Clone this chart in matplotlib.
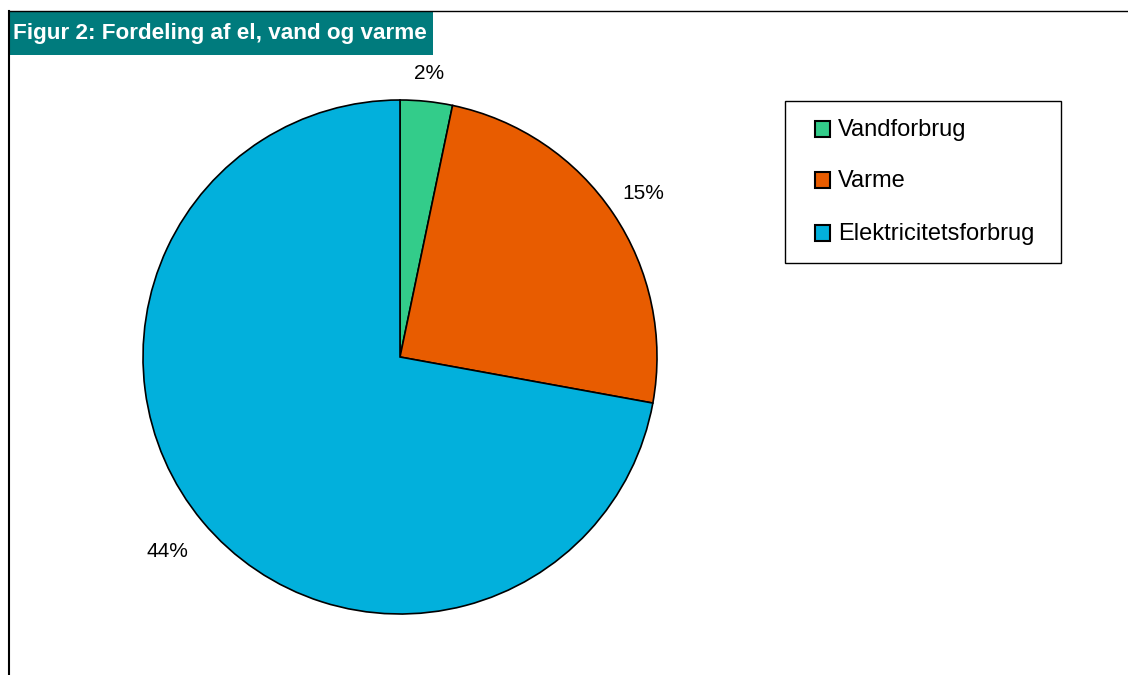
import numpy as np
import matplotlib
matplotlib.use("Agg")
import matplotlib.pyplot as plt
from matplotlib.patches import Rectangle
from matplotlib.lines import Line2D

plt.rcParams['font.family'] = ['Liberation Sans', 'DejaVu Sans']

# Data
categories = ["Vandforbrug", "Varme", "Elektricitetsforbrug"]
values = [2, 15, 44]
colors = ["#33CC8A", "#E85C00", "#02B0DC"]

W, H = 1128, 675
fig = plt.figure(figsize=(W / 100, H / 100), dpi=100)
fig.patch.set_facecolor("white")

def fx(px):
    return px / W

def fy(py):
    return 1 - py / H

# Outer frame lines (top and left)
fig.add_artist(Line2D([fx(9), fx(1128)], [fy(11), fy(11)], color="black", lw=1.0))
fig.add_artist(Line2D([fx(9), fx(9)], [fy(11), fy(675)], color="black", lw=1.5))

# Title bar
fig.add_artist(Rectangle((fx(9), fy(55)), fx(433) - fx(9), fy(11) - fy(55),
                         transform=fig.transFigure, facecolor="#007B7D",
                         edgecolor="none"))
fig.text(fx(13), fy(33), "Figur 2: Fordeling af el, vand og varme",
         color="white", fontsize=16.2, fontweight="bold", va="center", ha="left")

# Pie axes
cx, cy, r = 400, 357, 257
ax = fig.add_axes([fx(cx - r), fy(cy + r), 2 * r / W, 2 * r / H])
wedges, texts = ax.pie(values, colors=colors, startangle=90, counterclock=False,
                       labels=[f"{v}%" for v in values],
                       wedgeprops=dict(edgecolor="black", linewidth=1.2),
                       textprops=dict(fontsize=15))
# Percentage labels just outside each slice
label_dist = [1.11, 1.14, 1.18]
for w, t, d in zip(wedges, texts, label_dist):
    mid = np.deg2rad((w.theta1 + w.theta2) / 2)
    t.set_position((d * np.cos(mid), d * np.sin(mid)))
    t.set_ha("center")
    t.set_va("center")
ax.set_xlim(-1, 1)
ax.set_ylim(-1, 1)
ax.set_aspect("auto")
ax.axis("off")

# Legend box
fig.add_artist(Rectangle((fx(785), fy(263)), fx(1061) - fx(785), fy(101) - fy(263),
                         transform=fig.transFigure, facecolor="white",
                         edgecolor="black", linewidth=1.0))
baselines = [136, 187, 240]
for name, col, b in zip(categories, colors, baselines):
    fig.add_artist(Rectangle((fx(815), fy(b + 1)), fx(830) - fx(815), fy(b - 15) - fy(b + 1),
                             transform=fig.transFigure, facecolor=col,
                             edgecolor="black", linewidth=1.5))
    fig.text(fx(838), fy(b), name, fontsize=17, ha="left", va="baseline",
             color="black")

fig.savefig("out.png", dpi=100)
